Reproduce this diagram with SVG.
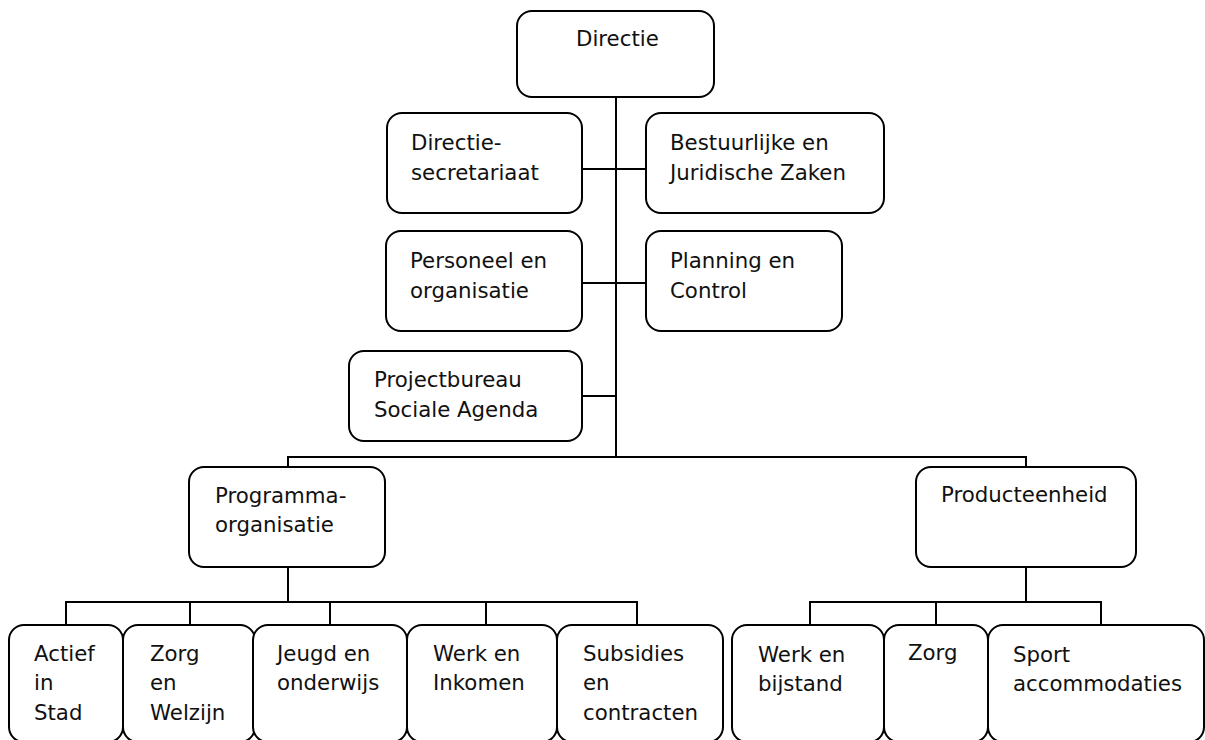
<svg xmlns="http://www.w3.org/2000/svg" width="1205" height="740" viewBox="0 0 1205 740">
<style>
.b{fill:#fff;stroke:#000;stroke-width:2}
.c{fill:none;stroke:#000;stroke-width:2}
text{font-family:"DejaVu Sans",Verdana,sans-serif;font-size:21.3px;fill:#111}
</style>
<rect width="1205" height="740" fill="#fff"/>
<g id="connectors">
<path class="c" d="M616 97V457M582 169H646M582 283H646M582 396H616M288 467V457H1026V467M288 567V602M66 624V602H637V624M190 602V624M330 602V624M486 602V624M1026 567V602M810 624V602H1101V624M936 602V624"/>
</g>
<g id="directie"><rect class="b" x="517" y="11" width="197" height="86" rx="15"/><text x="576" y="46">Directie</text></g>
<g id="secretariaat"><rect class="b" x="387" y="113" width="195" height="100" rx="15"/><text x="411" y="150">Directie-</text><text x="411" y="180">secretariaat</text></g>
<g id="bjz"><rect class="b" x="646" y="113" width="238" height="100" rx="15"/><text x="670" y="150">Bestuurlijke en</text><text x="670" y="180">Juridische Zaken</text></g>
<g id="peno"><rect class="b" x="386" y="231" width="196" height="100" rx="15"/><text x="410" y="268">Personeel en</text><text x="410" y="298">organisatie</text></g>
<g id="planning"><rect class="b" x="646" y="231" width="196" height="100" rx="15"/><text x="670" y="268">Planning en</text><text x="670" y="298">Control</text></g>
<g id="projectbureau"><rect class="b" x="349" y="351" width="233" height="90" rx="15"/><text x="374" y="387">Projectbureau</text><text x="374" y="417">Sociale Agenda</text></g>
<g id="programma"><rect class="b" x="189" y="467" width="196" height="100" rx="15"/><text x="215" y="503">Programma-</text><text x="215" y="532">organisatie</text></g>
<g id="producteenheid"><rect class="b" x="916" y="467" width="220" height="100" rx="15"/><text x="941" y="502">Producteenheid</text></g>
<g id="actief"><rect class="b" x="9" y="625" width="114" height="117" rx="15"/><text x="34" y="661">Actief</text><text x="34" y="690">in</text><text x="34" y="720">Stad</text></g>
<g id="zorgwelzijn"><rect class="b" x="123" y="625" width="132" height="117" rx="15"/><text x="150" y="661">Zorg</text><text x="150" y="690">en</text><text x="150" y="720">Welzijn</text></g>
<g id="jeugd"><rect class="b" x="253" y="625" width="154" height="117" rx="15"/><text x="277" y="661">Jeugd en</text><text x="277" y="690">onderwijs</text></g>
<g id="werkinkomen"><rect class="b" x="407" y="625" width="150" height="117" rx="15"/><text x="433" y="661">Werk en</text><text x="433" y="690">Inkomen</text></g>
<g id="subsidies"><rect class="b" x="557" y="625" width="166" height="117" rx="15"/><text x="583" y="661">Subsidies</text><text x="583" y="690">en</text><text x="583" y="720">contracten</text></g>
<g id="werkbijstand"><rect class="b" x="732" y="625" width="152" height="117" rx="15"/><text x="758" y="662">Werk en</text><text x="758" y="691">bijstand</text></g>
<g id="zorg"><rect class="b" x="884" y="625" width="104" height="117" rx="15"/><text x="908" y="660">Zorg</text></g>
<g id="sport"><rect class="b" x="988" y="625" width="216" height="117" rx="15"/><text x="1013" y="662">Sport</text><text x="1013" y="691">accommodaties</text></g>
</svg>
